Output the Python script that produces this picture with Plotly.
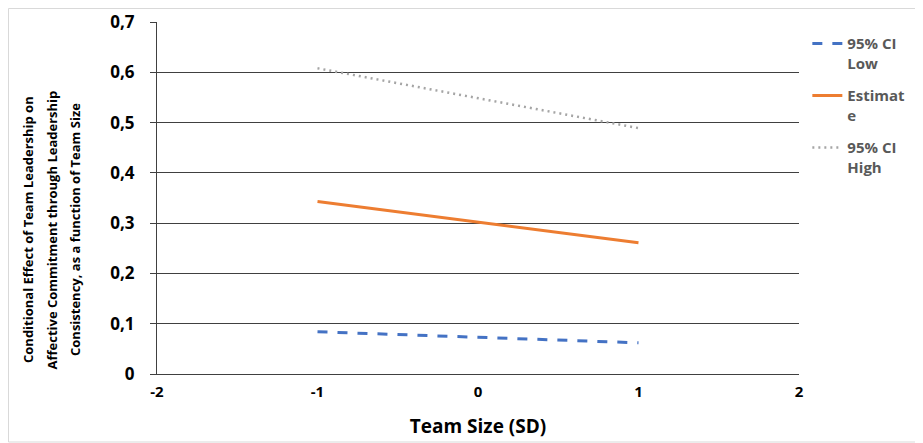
import plotly.graph_objects as go

team_size = [-1, 1]
ci_low = [0.084, 0.062]
estimate = [0.343, 0.261]
ci_high = [0.608, 0.489]

series_names = ["95% CI<br>Low", "Estimat<br>e", "95% CI<br>High"]
y_tickvals = [0, 0.1, 0.2, 0.3, 0.4, 0.5, 0.6, 0.7]
y_ticktext = ["0", "0,1", "0,2", "0,3", "0,4", "0,5", "0,6", "0,7"]
x_tickvals = [-2, -1, 0, 1, 2]
x_ticktext = ["-2", "-1", "0", "1", "2"]
y_title_lines = ["Conditional Effect of Team Leadership on",
                 "Affective Commitment through Leadership",
                 "Consistency, as a function of Team Size"]

FONT = "Open Sans"
W_PLOT = 642
H_PLOT = 352
# the page body has an 8px margin; the figure is sized to fill the rest of the window
PAGE_OFF = 8

fig = go.Figure()
fig.add_trace(go.Scatter(x=team_size, y=ci_low, mode="lines", name=series_names[0], legendgroup="a",
                         line=dict(color="#4472c4", width=3, dash="10px,10px")))
fig.add_trace(go.Scatter(x=team_size, y=estimate, mode="lines", name=series_names[1], legendgroup="b",
                         line=dict(color="#ed7d31", width=3)))
fig.add_trace(go.Scatter(x=team_size, y=ci_high, mode="lines", name=series_names[2], legendgroup="c",
                         line=dict(color="#a5a5a5", width=2.5, dash="2px,4px")))

fig.update_layout(
    width=923 - PAGE_OFF, height=443 - PAGE_OFF,
    margin=dict(l=157 - PAGE_OFF, r=124, t=22 - PAGE_OFF, b=69),
    paper_bgcolor="white", plot_bgcolor="white",
    font=dict(family=FONT, color="#000000"),
    showlegend=True,
    legend=dict(x=1.013, xanchor="left", y=0.985, yanchor="top",
                valign="top", tracegroupgap=10,
                font=dict(family=FONT, size=15, color="#595959", weight="bold"),
                bgcolor="rgba(0,0,0,0)"),
    xaxis=dict(range=[-2, 2], tickvals=x_tickvals, ticktext=x_ticktext, automargin=False,
               showgrid=False, zeroline=False, showline=True, linecolor="#404040", linewidth=1,
               ticks="", ticklabelstandoff=4,
               tickfont=dict(family=FONT, size=15, color="#000000", weight="bold"),
               title=dict(text="Team Size (SD)", font=dict(family=FONT, size=19, color="#000000", weight="bold"),
                          standoff=19)),
    yaxis=dict(range=[0, 0.7], tickvals=y_tickvals, ticktext=y_ticktext, automargin=False,
               showgrid=True, gridcolor="#404040", gridwidth=1, zeroline=False,
               showline=True, linecolor="#404040", linewidth=1,
               ticks="outside", ticklen=6, tickcolor="#404040", ticklabelstandoff=12,
               tickfont=dict(family=FONT, size=17, color="#000000", weight="bold")),
)

for i, line in enumerate(y_title_lines):
    fig.add_annotation(text=line, xref="paper", yref="paper", textangle=-90,
                       x=(28 + 23.5 * i - 157) / W_PLOT, y=(374 - 230) / H_PLOT,
                       xanchor="center", yanchor="middle", showarrow=False,
                       font=dict(family=FONT, size=13, color="#000000", weight="bold"))

fig.add_shape(type="rect", xref="paper", yref="paper",
              x0=-148.5 / W_PLOT, x1=1 + 123 / W_PLOT, y0=-68 / H_PLOT, y1=1 + 13.5 / H_PLOT,
              line=dict(color="#d9d9d9", width=1))

fig.write_html("out.html", config={"displayModeBar": False})
